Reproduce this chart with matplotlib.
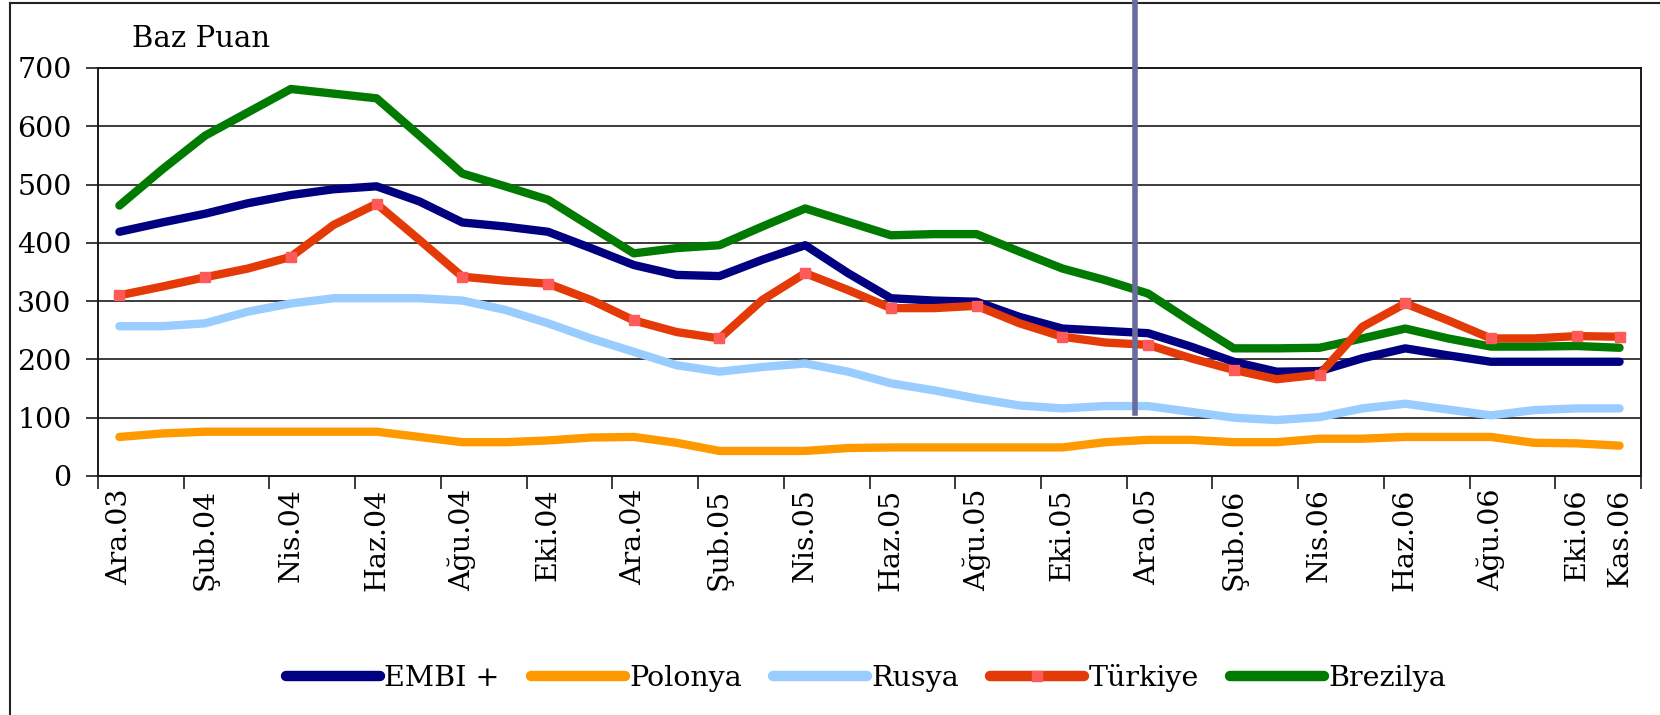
import matplotlib
matplotlib.use("Agg")
import matplotlib.pyplot as plt
from matplotlib.lines import Line2D
from matplotlib.transforms import blended_transform_factory

months = ['Ara.03', 'Oca.04', 'Şub.04', 'Mar.04', 'Nis.04', 'May.04', 'Haz.04', 'Tem.04',
          'Ağu.04', 'Eyl.04', 'Eki.04', 'Kas.04', 'Ara.04', 'Oca.05', 'Şub.05', 'Mar.05',
          'Nis.05', 'May.05', 'Haz.05', 'Tem.05', 'Ağu.05', 'Eyl.05', 'Eki.05', 'Kas.05',
          'Ara.05', 'Oca.06', 'Şub.06', 'Mar.06', 'Nis.06', 'May.06', 'Haz.06', 'Tem.06',
          'Ağu.06', 'Eyl.06', 'Eki.06', 'Kas.06']

embi = [419, 435, 450, 468, 482, 492, 497, 471, 435, 428, 419, 391, 362, 345, 343, 371,
        396, 348, 305, 301, 299, 273, 253, 249, 245, 222, 196, 179, 180, 202, 219, 207,
        196, 196, 196, 196]
polonya = [67, 73, 76, 76, 76, 76, 76, 67, 58, 58, 61, 66, 67, 57, 43, 43,
           43, 48, 49, 49, 49, 49, 49, 58, 62, 62, 58, 58, 64, 64, 67, 67,
           67, 57, 56, 52]
rusya = [257, 257, 262, 282, 296, 305, 305, 305, 301, 285, 262, 236, 213, 190, 179, 187,
         193, 179, 159, 147, 133, 121, 116, 120, 120, 110, 100, 96, 101, 116, 124, 114,
         104, 113, 116, 116]
turkiye = [310, 325, 341, 356, 376, 431, 467, 405, 342, 335, 330, 302, 267, 247, 236, 302,
           348, 319, 288, 288, 292, 262, 239, 229, 225, 202, 182, 166, 174, 256, 296, 267,
           236, 236, 240, 239]
brezilya = [464, 526, 584, 624, 664, 656, 648, 584, 519, 497, 474, 428, 382, 391, 396, 428,
            459, 436, 413, 415, 415, 385, 356, 336, 313, 265, 219, 219, 220, 236, 253, 236,
            222, 222, 223, 220]

series_names = ['EMBI +', 'Polonya', 'Rusya', 'Türkiye', 'Brezilya']
yticks = [0, 100, 200, 300, 400, 500, 600, 700]
label_idx = list(range(0, 35, 2)) + [35]
marker_idx = list(range(0, 35, 2)) + [35]
vline_x = 23.7

FONT = 'DejaVu Serif'
plt.rcParams['font.family'] = [FONT]
FS = 20.5

fig = plt.figure(figsize=(16.6, 7.15), dpi=100)
ax = fig.add_axes([98 / 1660, 1 - 476 / 715, (1641 - 98) / 1660, (476 - 68) / 715])

x = list(range(len(months)))
lw = 6.0
common = dict(lw=lw, solid_capstyle='round', solid_joinstyle='round', zorder=3)
ax.plot(x, embi, color='#000080', label=series_names[0], **common)
ax.plot(x, polonya, color='#FF9900', label=series_names[1], **common)
ax.plot(x, rusya, color='#99CCFF', label=series_names[2], **common)
ax.plot(x, brezilya, color='#007A00', label=series_names[4], **common)
ax.plot(x, turkiye, color='#E33A08', lw=lw, solid_capstyle='round', solid_joinstyle='round',
        marker='s', markersize=7, markerfacecolor='#FF5A5A', markeredgecolor='#FF5A5A',
        markevery=marker_idx, label=series_names[3], zorder=4)

ax.set_xlim(-0.5, len(months) - 0.5)
ax.set_ylim(0, 700)
ax.set_yticks(yticks)
ax.set_yticklabels([str(v) for v in yticks], fontsize=FS)
ax.yaxis.grid(True, color='#1a1a1a', lw=1.2)
ax.set_axisbelow(True)

ax.set_xticks(label_idx)
ax.set_xticklabels([months[i] for i in label_idx], rotation=90, fontsize=FS)
ax.tick_params(axis='x', which='major', length=0, pad=9)
ax.set_xticks([i - 0.5 for i in range(0, len(months) + 1, 2)], minor=True)
ax.tick_params(axis='x', which='minor', length=9, width=1.2, color='#1a1a1a', direction='out')
ax.tick_params(axis='y', which='major', length=9, width=1.2, color='#1a1a1a', pad=10)

for s in ax.spines.values():
    s.set_color('#1a1a1a')
    s.set_linewidth(1.4)

# vertical marker line
trans = blended_transform_factory(ax.transData, fig.transFigure)
fig.add_artist(Line2D([vline_x, vline_x], [1 - 413 / 715, 1.0], transform=trans,
                      color='#6A6C9E', lw=4, zorder=10))

# "Baz Puan" label
fig.text(132 / 1660, 1 - 39 / 715, 'Baz Puan', fontsize=21, ha='left', va='center')

# outer frame (left + top)
fig.add_artist(Line2D([9.5 / 1660, 9.5 / 1660], [0, 1 - 3 / 715], transform=fig.transFigure,
                      color='#222222', lw=1.5))
fig.add_artist(Line2D([9.5 / 1660, 1.0], [1 - 3 / 715, 1 - 3 / 715], transform=fig.transFigure,
                      color='#222222', lw=1.5))

handles, labels = ax.get_legend_handles_labels()
order = [labels.index(n) for n in series_names]
leg = fig.legend([handles[i] for i in order], [labels[i] for i in order],
                 loc='center', bbox_to_anchor=(866 / 1660, 1 - 678 / 715), ncol=5,
                 frameon=False, fontsize=FS, handlelength=3.3, handletextpad=0.15,
                 columnspacing=1.1, borderpad=0)
for h in leg.get_lines():
    h.set_linewidth(7.5)

fig.savefig('out.png', dpi=100)
